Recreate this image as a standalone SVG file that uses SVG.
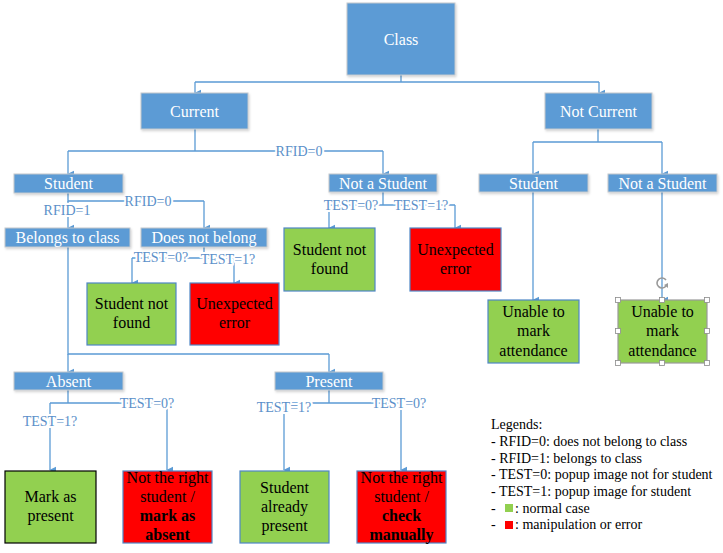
<svg xmlns="http://www.w3.org/2000/svg" width="723" height="553" viewBox="0 0 723 553">
<defs>
<marker id="arr" viewBox="0 0 10 10" refX="5" refY="9" markerWidth="8" markerHeight="7" markerUnits="userSpaceOnUse" orient="auto-start-reverse">
<path d="M0,0 L10,0 L5,10 Z" fill="#5b9bd5"/>
</marker>
<filter id="sh" x="-10%" y="-10%" width="130%" height="140%">
<feDropShadow dx="1" dy="1.5" stdDeviation="1" flood-color="#000" flood-opacity="0.18"/>
</filter>
<style>
text{font-family:'Liberation Serif','Tinos','Times New Roman','DejaVu Serif',serif}
.n{fill:#5b9bd5;stroke:#c4c8cc;stroke-width:1;filter:url(#sh)}
.nt{font-size:16px;fill:#fff;text-anchor:middle}
.g{fill:#92d050;stroke:#4f86c6;stroke-width:1.2}
.r{fill:#ff0000;stroke:#4f86c6;stroke-width:1.2}
.bt{font-size:16px;fill:#000;text-anchor:middle}
.b{font-weight:bold}
.c{fill:none;stroke:#5b9bd5;stroke-width:1.3}
.a{marker-end:url(#arr)}
.lb{font-size:14px;fill:#5b8fc9;text-anchor:middle;stroke:#fff;stroke-width:4;paint-order:stroke;stroke-linejoin:round}
.lg{font-size:14px;fill:#000}
.h{fill:#fff;stroke:#8c8c8c;stroke-width:0.8}
</style>
</defs>
<rect width="723" height="553" fill="#fff"/>

<g id="connectors">
<path class="c" d="M401,75 V82 M195,82 H599"/>
<path class="c a" d="M195,82 V93"/>
<path class="c a" d="M599,82 V93"/>
<path class="c" d="M195,129 V151 M68,151 H383"/>
<path class="c a" d="M68,151 V174"/>
<path class="c a" d="M383,151 V174"/>
<path class="c" d="M68,193 V201 H204"/>
<path class="c a" d="M204,201 V228"/>
<path class="c a" d="M68,201 V228"/>
<path class="c" d="M204,247 V258 M132,258 H234"/>
<path class="c a" d="M132,258 V283"/>
<path class="c a" d="M234,258 V283"/>
<path class="c" d="M383,192 V205 M329,205 H455"/>
<path class="c a" d="M329,205 V228"/>
<path class="c a" d="M455,205 V228"/>
<path class="c" d="M598,129 V142 M533,142 H662"/>
<path class="c a" d="M533,142 V174"/>
<path class="c a" d="M662,142 V174"/>
<path class="c a" d="M533,192 V300"/>
<path class="c a" d="M662,192 V300"/>
<path class="c" d="M68,247 V354 H329"/>
<path class="c a" d="M68,354 V372"/>
<path class="c a" d="M329,354 V372"/>
<path class="c" d="M68,390 V403 M50,403 H167"/>
<path class="c a" d="M50,403 V470"/>
<path class="c a" d="M167,403 V470"/>
<path class="c" d="M329,390 V403 M284,403 H401"/>
<path class="c a" d="M284,403 V470"/>
<path class="c a" d="M401,403 V470"/>
<text class="lb" x="299" y="156">RFID=0</text>
<text class="lb" x="148" y="206">RFID=0</text>
<text class="lb" x="67" y="215">RFID=1</text>
<text class="lb" x="161" y="262">TEST=0?</text>
<text class="lb" x="228" y="264">TEST=1?</text>
<text class="lb" x="351" y="210">TEST=0?</text>
<text class="lb" x="421" y="210">TEST=1?</text>
<text class="lb" x="147" y="408">TEST=0?</text>
<text class="lb" x="50" y="426">TEST=1?</text>
<text class="lb" x="284" y="412">TEST=1?</text>
<text class="lb" x="399" y="408">TEST=0?</text>
</g>

<g id="class"><rect class="n" x="347" y="3" width="108" height="72"/><text class="nt" x="401" y="44.5">Class</text></g>
<g id="current"><rect class="n" x="141" y="93" width="107" height="36"/><text class="nt" x="194.5" y="116.5">Current</text></g>
<g id="not-current"><rect class="n" x="545" y="93" width="107" height="36"/><text class="nt" x="598.5" y="116.5">Not Current</text></g>
<g id="student"><rect class="n" x="14" y="174" width="109" height="19"/><text class="nt" x="68.5" y="189">Student</text></g>
<g id="not-a-student"><rect class="n" x="329" y="174" width="108" height="18"/><text class="nt" x="383" y="188.5">Not a Student</text></g>
<g id="student-nc"><rect class="n" x="479" y="174" width="109" height="18"/><text class="nt" x="533.5" y="188.5">Student</text></g>
<g id="not-a-student-nc"><rect class="n" x="608" y="174" width="109" height="18"/><text class="nt" x="662.5" y="188.5">Not a Student</text></g>
<g id="belongs"><rect class="n" x="5" y="228" width="125" height="19"/><text class="nt" x="67.5" y="243">Belongs to class</text></g>
<g id="does-not-belong"><rect class="n" x="141" y="228" width="126" height="19"/><text class="nt" x="204" y="243">Does not belong</text></g>
<g id="absent"><rect class="n" x="14" y="372" width="109" height="18"/><text class="nt" x="68.5" y="386.5">Absent</text></g>
<g id="present"><rect class="n" x="275" y="372" width="108" height="18"/><text class="nt" x="329" y="386.5">Present</text></g>

<g id="nf1"><rect class="g" x="87" y="283" width="89" height="62"/><text class="bt" x="131.5" y="308.5">Student not</text><text class="bt" x="131.5" y="327.5">found</text></g>
<g id="err1"><rect class="r" x="190" y="283" width="89" height="62"/><text class="bt" x="234.5" y="308.5">Unexpected</text><text class="bt" x="234.5" y="327.5">error</text></g>
<g id="nf2"><rect class="g" x="284" y="228" width="91" height="63"/><text class="bt" x="329.5" y="255">Student not</text><text class="bt" x="329.5" y="274">found</text></g>
<g id="err2"><rect class="r" x="410" y="228" width="91" height="63"/><text class="bt" x="455.5" y="255">Unexpected</text><text class="bt" x="455.5" y="274">error</text></g>
<g id="unable1"><rect class="g" x="488" y="300" width="91" height="63"/><text class="bt" x="533.5" y="317">Unable to</text><text class="bt" x="533.5" y="336">mark</text><text class="bt" x="533.5" y="356">attendance</text></g>
<g id="unable2"><rect class="g" x="618" y="300" width="89" height="63" style="stroke:#9a9a9a"/><text class="bt" x="662.5" y="317">Unable to</text><text class="bt" x="662.5" y="336">mark</text><text class="bt" x="662.5" y="356">attendance</text>
<g id="selection-handles">
<rect class="h" x="615.5" y="297.5" width="5" height="5"/><rect class="h" x="659.5" y="297.5" width="5" height="5"/><rect class="h" x="704.5" y="297.5" width="5" height="5"/>
<rect class="h" x="615.5" y="328.5" width="5" height="5"/><rect class="h" x="704.5" y="328.5" width="5" height="5"/>
<rect class="h" x="615.5" y="360.5" width="5" height="5"/><rect class="h" x="659.5" y="360.5" width="5" height="5"/><rect class="h" x="704.5" y="360.5" width="5" height="5"/>
<path d="M666,286 A5,5 0 1 1 666,280" fill="none" stroke="#9a9a9a" stroke-width="1.6"/>
<path d="M664,285 L668,288 L668,283 Z" fill="#9a9a9a"/>
</g></g>
<g id="mark-present"><rect class="g" x="5" y="471" width="91" height="72" style="stroke:#000"/><text class="bt" x="50.5" y="502">Mark as</text><text class="bt" x="50.5" y="521">present</text></g>
<g id="wrong1"><rect class="r" x="123" y="471" width="89" height="72"/><text class="bt" x="167.5" y="483">Not the right</text><text class="bt" x="167.5" y="502">student /</text><text class="bt b" x="167.5" y="521">mark as</text><text class="bt b" x="167.5" y="540">absent</text></g>
<g id="already"><rect class="g" x="240" y="471" width="89" height="72"/><text class="bt" x="284.5" y="493">Student</text><text class="bt" x="284.5" y="512">already</text><text class="bt" x="284.5" y="531">present</text></g>
<g id="wrong2"><rect class="r" x="357" y="471" width="89" height="72"/><text class="bt" x="401.5" y="483">Not the right</text><text class="bt" x="401.5" y="502">student /</text><text class="bt b" x="401.5" y="521">check</text><text class="bt b" x="401.5" y="540">manually</text></g>

<g id="legend">
<text class="lg" x="491" y="429">Legends:</text>
<text class="lg" x="491" y="446">- RFID=0: does not belong to class</text>
<text class="lg" x="491" y="462.5">- RFID=1: belongs to class</text>
<text class="lg" x="491" y="479">- TEST=0: popup image not for student</text>
<text class="lg" x="491" y="495.5">- TEST=1: popup image for student</text>
<text class="lg" x="491" y="512.5">-</text>
<rect x="505" y="504" width="8" height="8" fill="#92d050"/>
<text class="lg" x="515" y="512.5">: normal case</text>
<text class="lg" x="491" y="529">-</text>
<rect x="505" y="521" width="8" height="8" fill="#ff0000"/>
<text class="lg" x="515" y="529">: manipulation or error</text>
</g>
</svg>
